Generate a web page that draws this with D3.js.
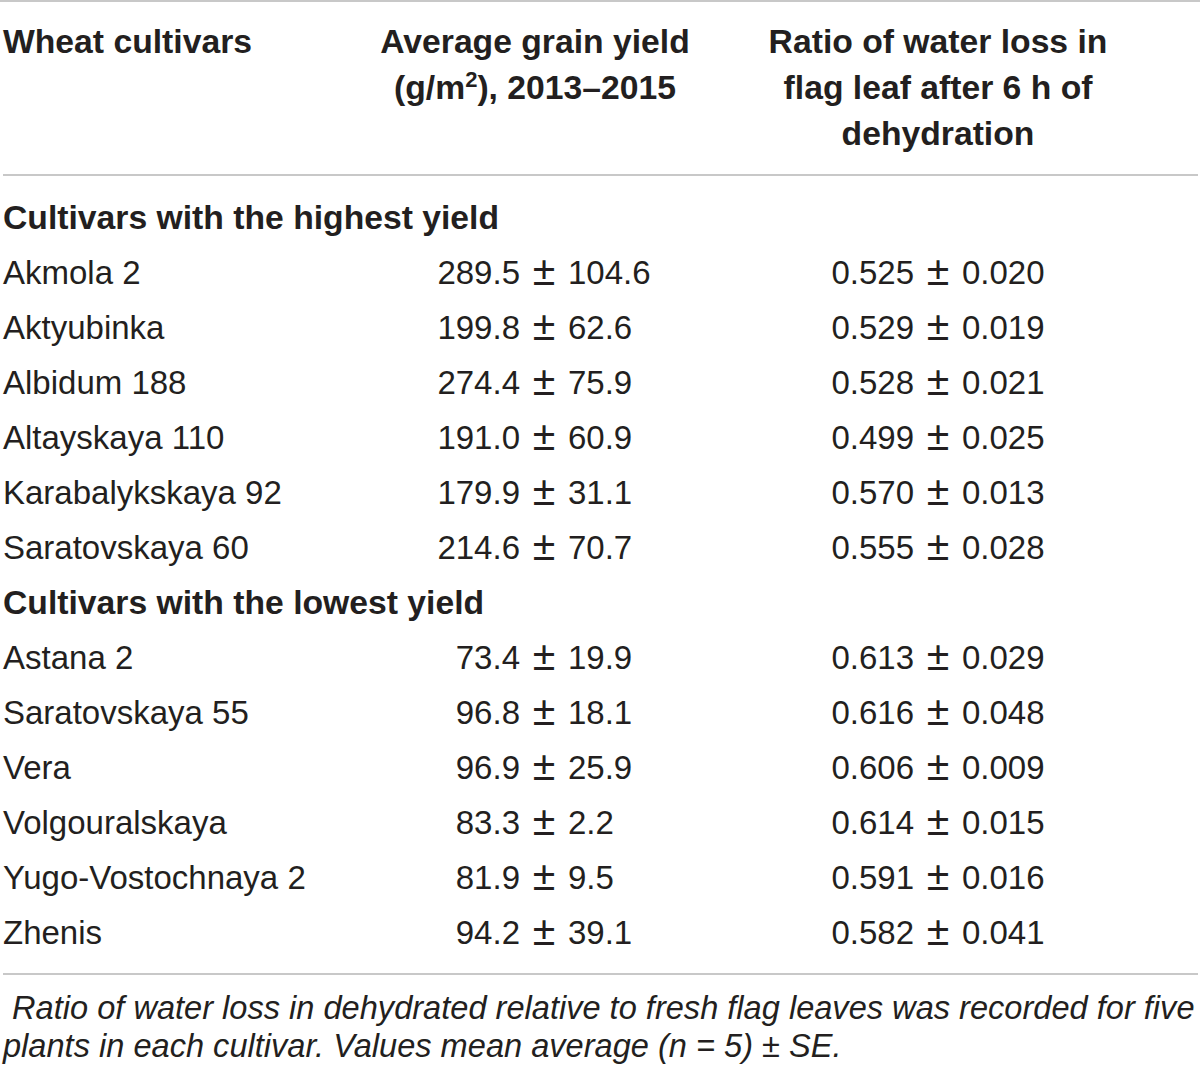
<!DOCTYPE html>
<html>
<head>
<meta charset="utf-8">
<script src="https://cdn.jsdelivr.net/npm/d3@7/dist/d3.min.js"></script>
<style>
  html, body { margin: 0; padding: 0; background: #fff; }
  svg text { font-family: "Liberation Sans", Arial, sans-serif; fill: #231f20; }
  .head { font-weight: bold; font-size: 33.7px; }
  .cell { font-size: 33px; }
  .pm { font-size: 41px; }
  .note { font-style: italic; font-size: 32.6px; }
  .rule { stroke: #c8c8c8; stroke-width: 2; }
</style>
</head>
<body>
<div id="container"></div>
<script>
  // table data
  const groups = ["Cultivars with the highest yield", "Cultivars with the lowest yield"];
  const cultivars = [
    "Akmola 2", "Aktyubinka", "Albidum 188", "Altayskaya 110", "Karabalykskaya 92", "Saratovskaya 60",
    "Astana 2", "Saratovskaya 55", "Vera", "Volgouralskaya", "Yugo-Vostochnaya 2", "Zhenis"
  ];
  const cultivarGroup = [0, 0, 0, 0, 0, 0, 1, 1, 1, 1, 1, 1];
  const yieldMean = [289.5, 199.8, 274.4, 191.0, 179.9, 214.6, 73.4, 96.8, 96.9, 83.3, 81.9, 94.2];
  const yieldSE = [104.6, 62.6, 75.9, 60.9, 31.1, 70.7, 19.9, 18.1, 25.9, 2.2, 9.5, 39.1];
  const ratioMean = [0.525, 0.529, 0.528, 0.499, 0.570, 0.555, 0.613, 0.616, 0.606, 0.614, 0.591, 0.582];
  const ratioSE = [0.020, 0.019, 0.021, 0.025, 0.013, 0.028, 0.029, 0.048, 0.009, 0.015, 0.016, 0.041];
  const footnote = [
    " Ratio of water loss in dehydrated relative to fresh flag leaves was recorded for five",
    "plants in each cultivar. Values mean average (n = 5) \u00b1 SE."
  ];

  const width = 1200, height = 1068;

  const svg = d3.select("#container").append("svg")
    .attr("width", width)
    .attr("height", height);

  // rows: group label followed by its cultivars
  let rows = [];
  groups.forEach(function(g, gi) {
    rows.push({ type: "group", label: g });
    cultivars.forEach(function(c, i) {
      if (cultivarGroup[i] === gi) rows.push({ type: "item", i: i });
    });
  });

  let y = d3.scaleLinear()
    .domain([0, rows.length - 1])
    .range([229, 944]);

  let fmt1 = d3.format(".1f");
  let fmt3 = d3.format(".3f");

  // column anchors (x of the ± sign)
  let col = [3, 544, 938];
  let gap = 24;

  // rules
  svg.append("line").attr("class", "rule")
    .attr("x1", 0).attr("x2", width).attr("y1", 1).attr("y2", 1);
  svg.append("line").attr("class", "rule")
    .attr("x1", 3).attr("x2", 1198).attr("y1", 175).attr("y2", 175);
  svg.append("line").attr("class", "rule")
    .attr("x1", 3).attr("x2", 1198).attr("y1", 974).attr("y2", 974);

  // header
  svg.append("text").attr("class", "head")
    .attr("x", col[0]).attr("y", 53)
    .text("Wheat cultivars");

  let h2 = svg.append("text").attr("class", "head")
    .attr("text-anchor", "middle");
  h2.append("tspan").attr("x", 535).attr("y", 53).text("Average grain yield");
  let l2 = h2.append("tspan").attr("x", 535).attr("y", 99);
  l2.append("tspan").text("(g/m");
  l2.append("tspan").attr("dy", -12).style("font-size", "22px").text("2");
  l2.append("tspan").attr("dy", 12).text("), 2013\u20132015");

  let h3 = svg.append("text").attr("class", "head")
    .attr("text-anchor", "middle");
  ["Ratio of water loss in", "flag leaf after 6 h of", "dehydration"].forEach(function(t, k) {
    h3.append("tspan").attr("x", 938).attr("y", 53 + k * 46).text(t);
  });

  // body
  let row = svg.selectAll("g.row")
    .data(rows)
    .enter().append("g")
    .attr("class", "row")
    .attr("transform", function(d, k) { return "translate(0," + y(k) + ")"; });

  row.filter(function(d) { return d.type === "group"; })
    .append("text").attr("class", "head")
    .attr("x", col[0])
    .text(function(d) { return d.label; });

  let items = row.filter(function(d) { return d.type === "item"; });

  items.append("text").attr("class", "cell")
    .attr("x", col[0])
    .text(function(d) { return cultivars[d.i]; });

  function pm(sel, x, mean, se) {
    sel.append("text").attr("class", "cell")
      .attr("x", x - gap).attr("text-anchor", "end")
      .text(function(d) { return mean(d.i); });
    sel.append("text").attr("class", "pm")
      .attr("x", x).attr("y", 1).attr("text-anchor", "middle")
      .text("\u00b1");
    sel.append("text").attr("class", "cell")
      .attr("x", x + gap).attr("text-anchor", "start")
      .text(function(d) { return se(d.i); });
  }

  pm(items, col[1], function(i) { return fmt1(yieldMean[i]); }, function(i) { return fmt1(yieldSE[i]); });
  pm(items, col[2], function(i) { return fmt3(ratioMean[i]); }, function(i) { return fmt3(ratioSE[i]); });

  // footnote
  svg.selectAll("text.note")
    .data(footnote)
    .enter().append("text")
    .attr("class", "note")
    .attr("x", 3)
    .attr("y", function(d, k) { return 1019 + k * 38; })
    .attr("xml:space", "preserve")
    .style("white-space", "pre")
    .text(function(d) { return d; });
</script>
</body>
</html>
